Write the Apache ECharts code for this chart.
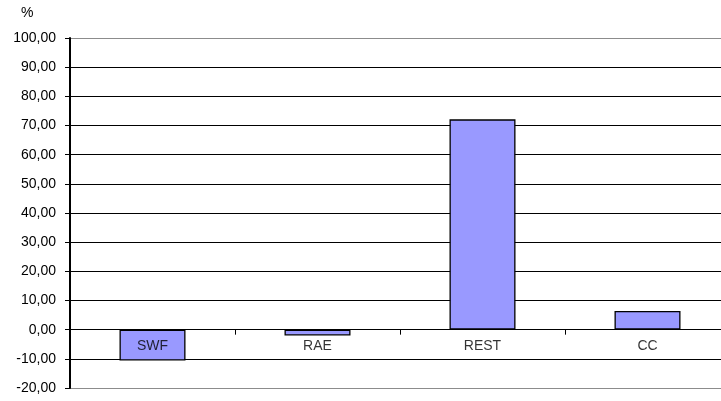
<!DOCTYPE html>
<html>
<head>
<meta charset="utf-8">
<script src="https://cdn.jsdelivr.net/npm/echarts@6/dist/echarts.min.js"></script>
<style>
  html, body { margin: 0; padding: 0; background: #fff; }
  #chart { width: 721px; height: 401px; }
</style>
</head>
<body>
<div id="chart"></div>
<script>
// Percentage change per group
const categories = ['SWF', 'RAE', 'REST', 'CC'];
const values = [-10.6, -2.0, 72.1, 6.4];
const yMin = -20;
const yMax = 100;
const yStep = 10;

// Outer gridlines (min/max) are grey, inner ones black
const gridColors = [];
for (let v = yMin; v <= yMax; v += yStep) {
  gridColors.push(v === yMin || v === yMax ? '#8c8c8c' : '#000');
}

const FONT = '"Liberation Sans", Arial, sans-serif';

const chart = echarts.init(document.getElementById('chart'), null, { renderer: 'canvas' });
chart.setOption({
  animation: false,
  backgroundColor: '#fff',
  textStyle: { fontFamily: FONT },
  graphic: [{
    type: 'text', left: 21, top: 6,
    style: { text: '%', font: '14px ' + FONT, fill: '#000' }
  }],
  grid: { left: 70, top: 38, width: 660, height: 350, containLabel: false, outerBoundsMode: 'none' },
  xAxis: {
    type: 'category',
    data: categories,
    z: 5,
    axisLine: { show: true, onZero: true, lineStyle: { color: '#000', width: 1 } },
    axisTick: { show: true, length: 5, lineStyle: { color: '#000' } },
    axisLabel: { show: false },
    splitLine: { show: false }
  },
  yAxis: {
    type: 'value',
    min: yMin, max: yMax, interval: yStep,
    axisLine: { show: true, lineStyle: { color: '#000', width: 2 } },
    axisTick: { show: true, length: 5, lineStyle: { color: '#000', width: 1 } },
    axisLabel: {
      color: '#000', fontSize: 14, margin: 14,
      formatter: v => v.toFixed(2).replace('.', ',')
    },
    splitLine: { show: true, lineStyle: { color: gridColors, width: 1 } }
  },
  series: [{
    type: 'bar',
    data: values,
    barWidth: '40%',
    itemStyle: { color: '#9999ff', borderColor: '#000', borderWidth: 1.3 }
  }, {
    // category names sit just under the zero line
    type: 'scatter',
    z: 6,
    symbolSize: 1,
    itemStyle: { color: 'rgba(0,0,0,0)' },
    silent: true,
    data: categories.map(c => [c, 0]),
    label: {
      show: true, position: 'bottom', distance: 9,
      color: '#000', fontSize: 14, fontFamily: FONT,
      formatter: p => p.value[0]
    }
  }]
});
</script>
</body>
</html>
